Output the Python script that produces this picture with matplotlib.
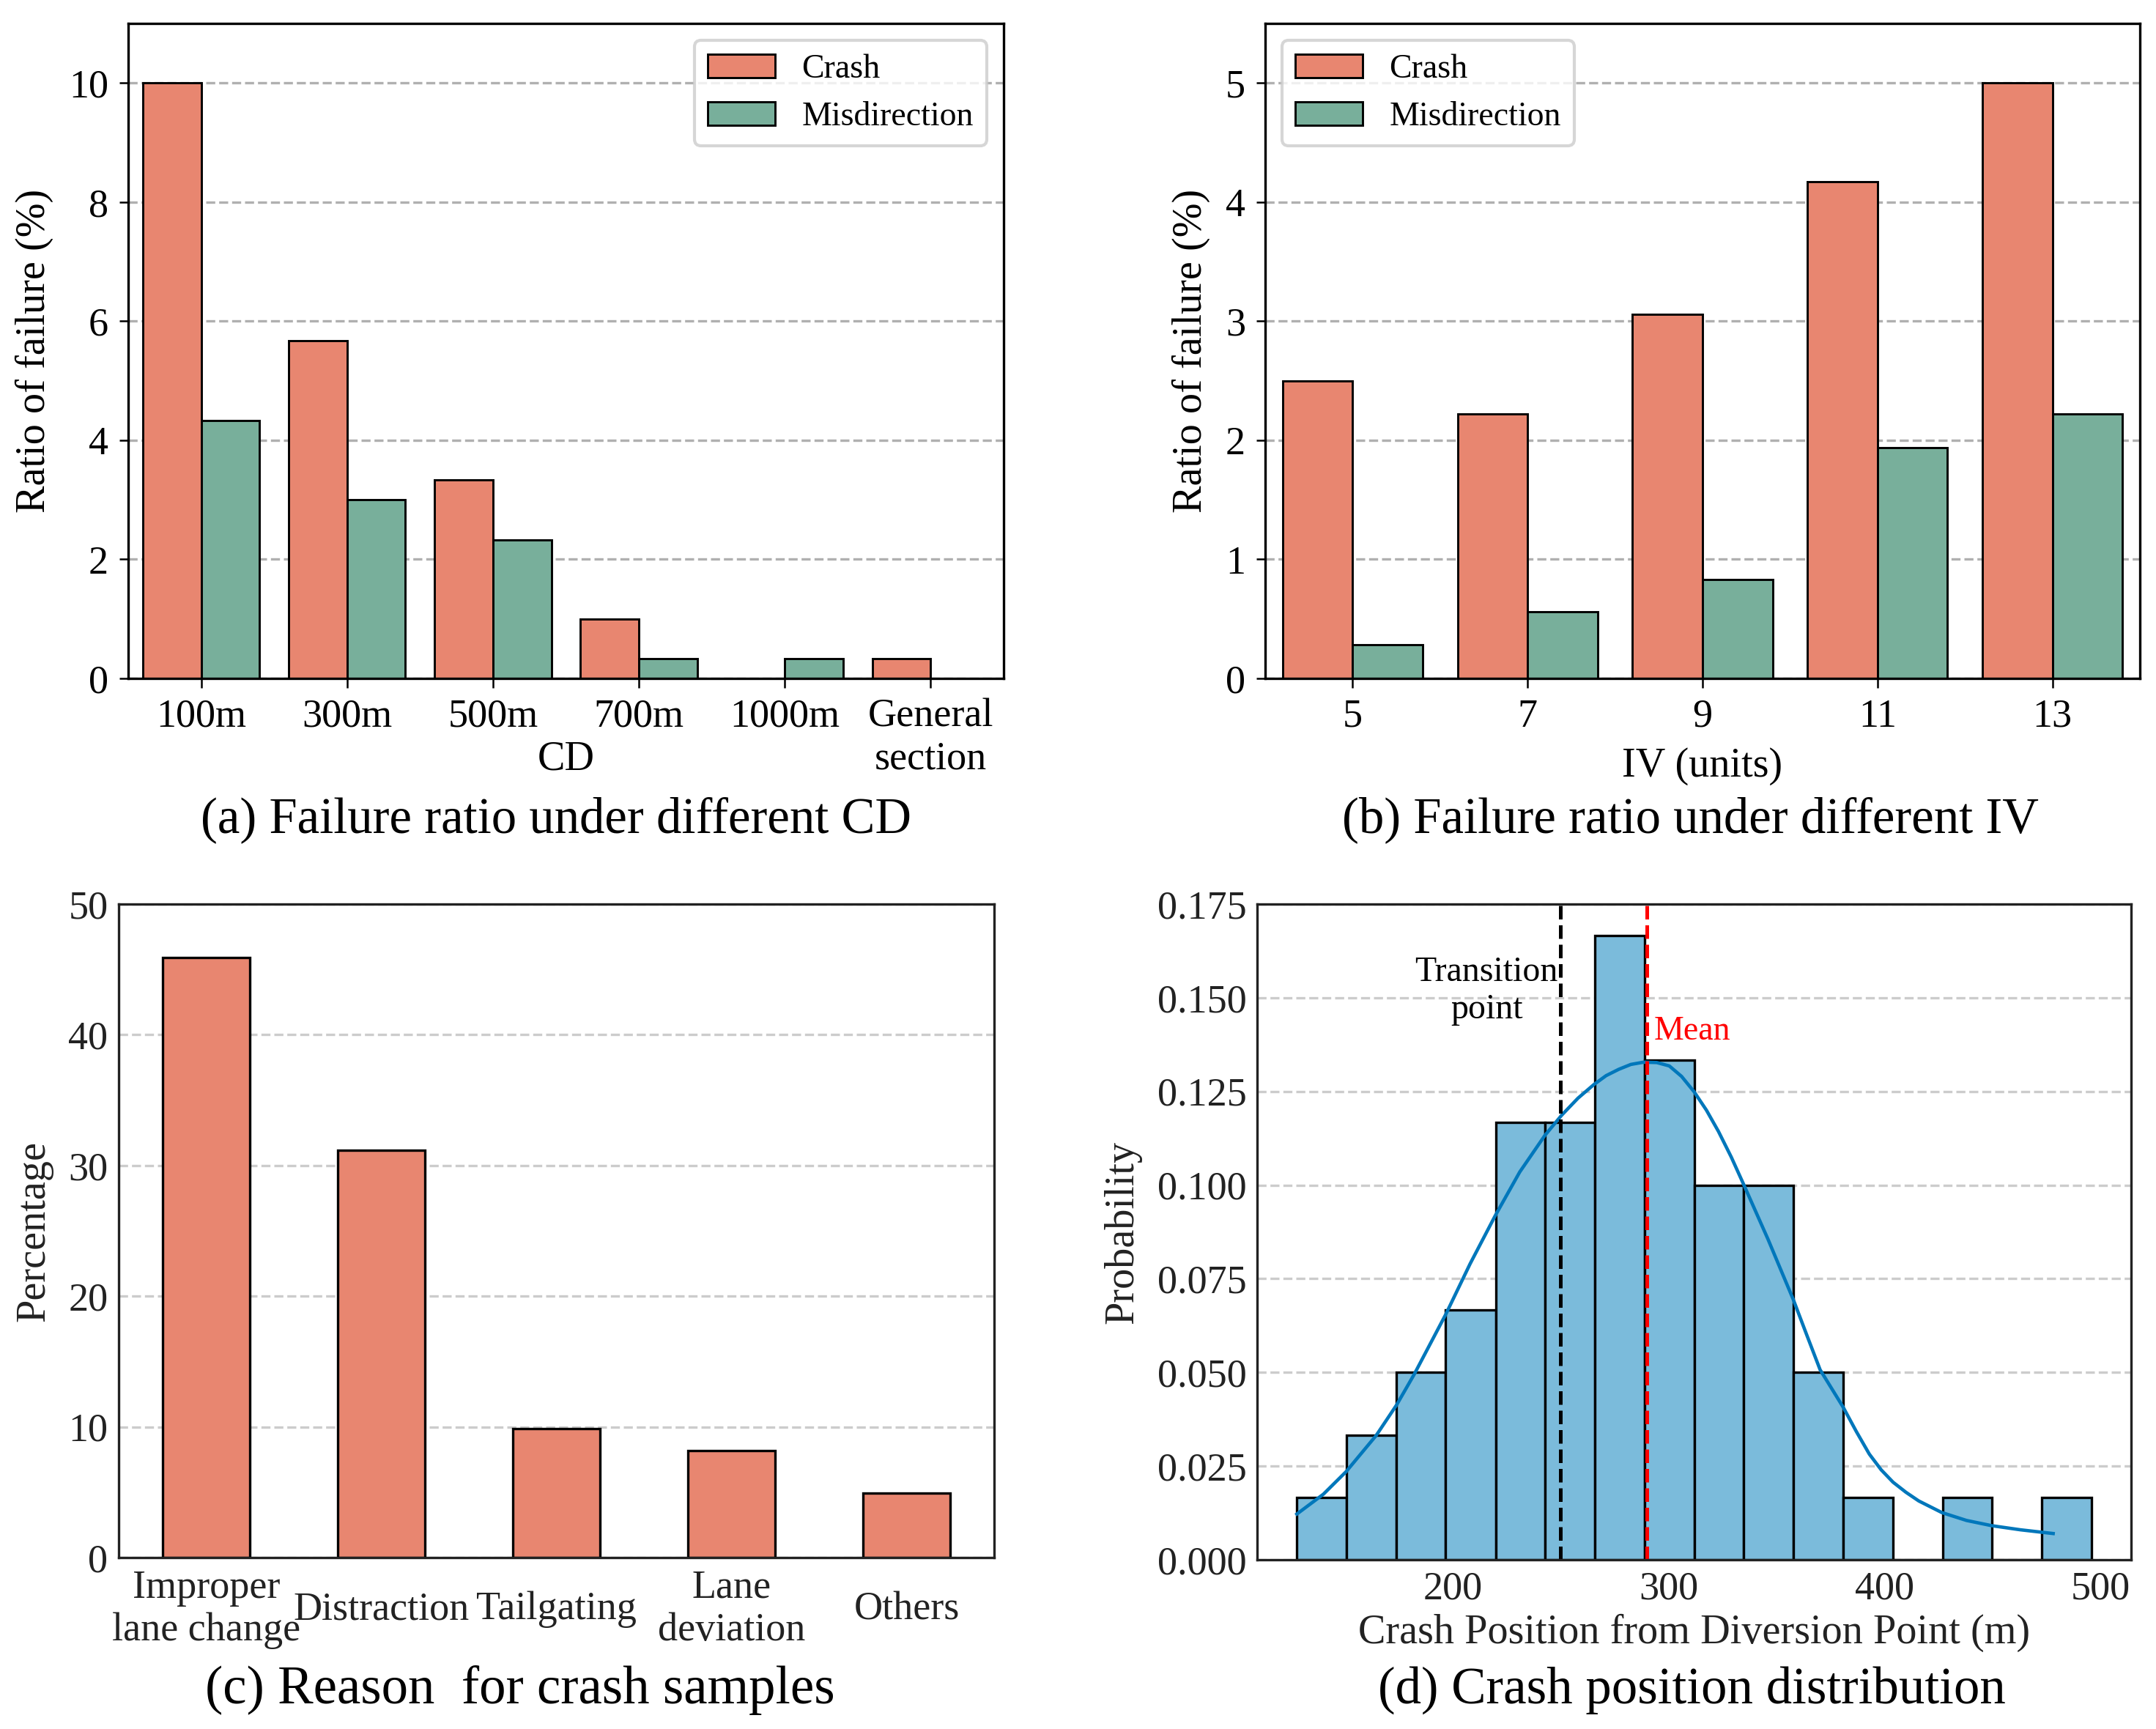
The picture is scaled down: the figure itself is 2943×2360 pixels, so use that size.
import matplotlib
matplotlib.use("Agg")
import matplotlib.pyplot as plt
import numpy as np

plt.rcParams['font.family'] = 'serif'
plt.rcParams['font.serif'] = ['Liberation Serif', 'DejaVu Serif']

# (a) failure ratio vs CD
cd_labels = ['100m', '300m', '500m', '700m', '1000m', 'General\nsection']
cd_crash = [10.0, 5.67, 3.33, 1.0, 0.0, 0.33]
cd_misdir = [4.33, 3.0, 2.33, 0.33, 0.33, 0.0]

# (b) failure ratio vs IV
iv_labels = ['5', '7', '9', '11', '13']
iv_crash = [2.5, 2.22, 3.06, 4.17, 5.0]
iv_misdir = [0.28, 0.56, 0.83, 1.94, 2.22]

# (c) crash reasons
reason_labels = ['Improper\nlane change', 'Distraction', 'Tailgating', 'Lane\ndeviation', 'Others']
reason_pct = [45.90, 31.15, 9.84, 8.20, 4.92]

# (d) crash position histogram (60 samples) + kde
bin_edges = [127.7, 150.7, 173.7, 196.7, 219.8, 242.8, 265.8, 288.8, 311.8,
             334.8, 357.8, 380.9, 403.9, 426.9, 449.9, 472.9, 495.9]
bin_counts = [1, 2, 3, 4, 7, 7, 10, 8, 6, 6, 3, 1, 0, 1, 0, 1]
n_samples = 60
kde_x = [127.7, 140.0, 150.5, 164.5, 173.9, 182.0, 196.8, 208.0, 219.6, 231.0,
         242.7, 250.5, 258.0, 265.3, 271.0, 276.9, 282.5, 288.4, 294.5, 300.3,
         306.0, 311.8, 317.5, 323.1, 329.0, 334.9, 346.0, 357.8, 364.0, 370.2,
         380.9, 387.0, 393.0, 398.5, 404.0, 410.0, 415.9, 426.6, 438.0, 449.7,
         463.0, 478.2]
kde_y = [0.0122, 0.0175, 0.0235, 0.0332, 0.0413, 0.0494, 0.0656, 0.0790, 0.0918, 0.1035,
         0.1133, 0.1187, 0.1232, 0.1268, 0.1292, 0.1309, 0.1322, 0.1328, 0.1327, 0.1318,
         0.1290, 0.1249, 0.1200, 0.1143, 0.1075, 0.1000, 0.0856, 0.0694, 0.0600, 0.0507,
         0.0407, 0.0342, 0.0282, 0.0240, 0.0207, 0.0180, 0.0157, 0.0126, 0.0105, 0.0091,
         0.0080, 0.0070]
transition_x = 250
mean_x = 290

c_crash = '#E88670'
c_mis = '#78AF9B'
c_hist = '#7BBBDB'
c_kde = '#0077BB'

TICK = 13
LAB = 13.5
LEG = 11

fig = plt.figure(figsize=(9.81, 7.8667), dpi=300)
ax_a = fig.add_axes([0.05946, 0.60763, 0.40605, 0.37881])
ax_b = fig.add_axes([0.58682, 0.60763, 0.40571, 0.37881])
ax_c = fig.add_axes([0.05505, 0.09915, 0.40605, 0.37797])
ax_d = fig.add_axes([0.58308, 0.09788, 0.40537, 0.37924])


def grouped(ax, labels, crash, mis, ylim, yticks, loc):
    x = np.arange(len(labels))
    w = 0.4
    ax.bar(x - w / 2, crash, w, color=c_crash, edgecolor='black', linewidth=0.7, label='Crash')
    ax.bar(x + w / 2, mis, w, color=c_mis, edgecolor='black', linewidth=0.7, label='Misdirection')
    ax.set_xticks(x)
    ax.set_xticklabels(labels)
    ax.set_xlim(-0.5, len(labels) - 0.5)
    ax.set_ylim(*ylim)
    ax.set_yticks(yticks)
    ax.set_axisbelow(True)
    ax.yaxis.grid(True, linestyle='--', color='#b0b0b0', linewidth=0.8)
    ax.tick_params(labelsize=TICK, length=3, width=0.6)
    for s in ax.spines.values():
        s.set_linewidth(0.8)
        s.set_color('black')
    ax.set_ylabel('Ratio of failure (%)', fontsize=LAB, labelpad=5)
    leg = ax.legend(loc=loc, fontsize=LEG, fancybox=True)
    leg.get_frame().set_edgecolor('#cccccc')


grouped(ax_a, cd_labels, cd_crash, cd_misdir, (0, 11), [0, 2, 4, 6, 8, 10], 'upper right')
ax_a.set_xlabel('CD', fontsize=LAB)
ax_a.xaxis.set_label_coords(0.5, -0.095)

grouped(ax_b, iv_labels, iv_crash, iv_misdir, (0, 5.5), [0, 1, 2, 3, 4, 5], 'upper left')
ax_b.set_xlabel('IV (units)', fontsize=LAB)

# (c)
xc = np.arange(len(reason_labels))
ax_c.bar(xc, reason_pct, 0.5, color=c_crash, edgecolor='black', linewidth=0.8)
ax_c.set_xticks(xc)
ax_c.set_xticklabels(reason_labels)
for t in ax_c.get_xticklabels():
    t.set_verticalalignment('center')
ax_c.set_xlim(-0.5, len(reason_labels) - 0.5)
ax_c.set_ylim(0, 50)
ax_c.set_yticks([0, 10, 20, 30, 40, 50])
ax_c.set_axisbelow(True)
ax_c.yaxis.grid(True, linestyle='--', color='#cccccc', linewidth=0.8)
ax_c.tick_params(labelsize=TICK, length=0, labelcolor='#222222')
ax_c.tick_params(axis='x', pad=17)
ax_c.set_ylabel('Percentage', fontsize=LAB, color='#222222', labelpad=5)
for s in ax_c.spines.values():
    s.set_linewidth(0.8)
    s.set_color('#222222')

# (d)
probs = np.array(bin_counts) / n_samples
ax_d.hist(bin_edges[:-1], bins=bin_edges, weights=probs, color=c_hist,
          edgecolor='black', linewidth=0.8)
ax_d.plot(kde_x, kde_y, color=c_kde, linewidth=1.1)
ax_d.axvline(transition_x, color='black', linestyle='--', linewidth=1.2)
ax_d.axvline(mean_x, color='red', linestyle='--', linewidth=1.2)
ax_d.text(215.6, 0.1518, 'Transition\npoint', ha='center', va='center', fontsize=11.5)
ax_d.text(293.0, 0.1411, 'Mean', ha='left', va='center', fontsize=11, color='red')
ax_d.set_ylim(0, 0.175)
ax_d.set_yticks(np.arange(0, 0.176, 0.025))
ax_d.yaxis.set_major_formatter(matplotlib.ticker.FormatStrFormatter('%.3f'))
ax_d.set_xticks([200, 300, 400, 500])
ax_d.set_axisbelow(True)
ax_d.yaxis.grid(True, linestyle='--', color='#cccccc', linewidth=0.8)
ax_d.tick_params(labelsize=TICK, length=0, labelcolor='#222222')
ax_d.set_ylabel('Probability', fontsize=LAB, color='#222222', labelpad=5)
ax_d.set_xlabel('Crash Position from Diversion Point (m)', fontsize=LAB, color='#222222', labelpad=2)
for s in ax_d.spines.values():
    s.set_linewidth(0.8)
    s.set_color('#222222')

# sub captions
W, H = 2943, 2360
fig.text(759 / W, 1 - 1119 / H, '(a) Failure ratio under different CD', ha='center', va='center', fontsize=16.5)
fig.text(2307 / W, 1 - 1119 / H, '(b) Failure ratio under different IV', ha='center', va='center', fontsize=16.5)
fig.text(710 / W, 1 - 2307 / H, '(c) Reason  for crash samples', ha='center', va='center', fontsize=17.5)
fig.text(2309 / W, 1 - 2307 / H, '(d) Crash position distribution', ha='center', va='center', fontsize=17)

fig.savefig('out.png', dpi=300)
